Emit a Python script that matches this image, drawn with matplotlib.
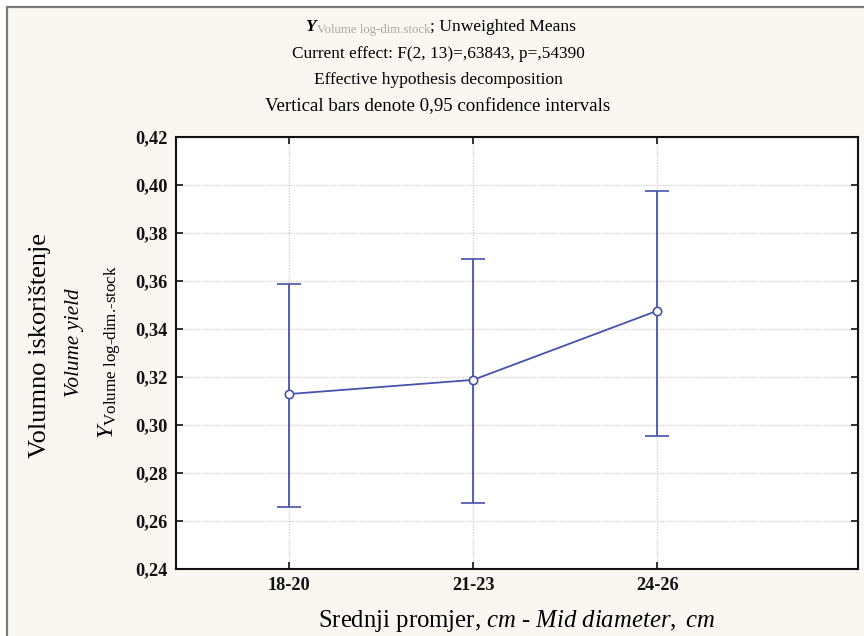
import matplotlib
matplotlib.use("Agg")
import matplotlib.pyplot as plt
from matplotlib.patches import Rectangle
import numpy as np

# ---- data ----
categories = ["18-20", "21-23", "24-26"]
means = [0.3129, 0.3188, 0.3476]
upper = [0.3588, 0.3692, 0.3976]
lower = [0.2657, 0.2674, 0.2955]
yticks = [0.24, 0.26, 0.28, 0.30, 0.32, 0.34, 0.36, 0.38, 0.40, 0.42]
title_lines = ["Current effect: F(2, 13)=,63843, p=,54390",
               "Effective hypothesis decomposition",
               "Vertical bars denote 0,95 confidence intervals"]

plt.rcParams['font.family'] = ['Liberation Serif', 'DejaVu Serif']
plt.rcParams['mathtext.fontset'] = 'custom'
plt.rcParams['mathtext.rm'] = 'Liberation Serif'
plt.rcParams['mathtext.it'] = 'Liberation Serif:italic'
plt.rcParams['mathtext.bf'] = 'Liberation Serif:bold'

W, H = 864, 636
fig = plt.figure(figsize=(W / 100, H / 100), dpi=100, facecolor='white')

# frame / background
fig.add_artist(Rectangle((7 / W, -0.05), 1.1, 1 - 7 / H + 0.05, transform=fig.transFigure,
                         facecolor='#faf7f2', edgecolor='#7a7a7a', linewidth=1.6, zorder=-10))

ax = fig.add_axes([176 / W, 1 - 569 / H, (858 - 176) / W, (569 - 137) / H])
ax.set_facecolor('white')

x = np.arange(len(categories))
m = np.array(means)
yerr = np.vstack([m - np.array(lower), np.array(upper) - m])
col = '#4653ad'
ax.errorbar(x, m, yerr=yerr, color=col, lw=1.3, capsize=8.5, capthick=1.3,
            marker='o', ms=6, mfc='white', mec=col, mew=1.2, zorder=3)

ax.set_xlim(-0.614, 3.09)
ax.set_ylim(0.24, 0.42)
ax.set_xticks(x)
ax.set_xticklabels(categories)
ax.set_yticks(yticks)
ax.set_yticklabels([f"{v:.2f}".replace('.', ',') for v in yticks])
for lab in ax.get_xticklabels() + ax.get_yticklabels():
    lab.set_fontsize(13.2)
    lab.set_fontweight('bold')
ax.tick_params(direction='in', length=5, width=1.2, top=True, right=True, pad=6, colors='#111111')
ax.grid(True, linestyle=(0, (1, 1)), color='#d9cccc', linewidth=1.0)
for s in ax.spines.values():
    s.set_linewidth(1.5)
    s.set_color('#111111')

# x label
fig.text(517 / W, 1 - 621 / H,
         r"Srednji promjer, $\mathit{cm}$ - $\mathit{Mid\ diameter,\ cm}$",
         ha='center', va='center', fontsize=17.8)

# y labels (three rotated lines)
fig.text(40 / W, 1 - 345 / H, "Volumno iskorištenje", rotation=90, ha='center', va='center', fontsize=19)
fig.text(75 / W, 1 - 343 / H, "Volume yield", rotation=90, ha='center', va='center', fontsize=15.2, style='italic')
fig.text(110 / W, 1 - 352 / H, r"$Y_{\text{Volume log-dim.-stock}}$", rotation=90,
         ha='center', va='center', fontsize=17.5)

# title
t_y = fig.text(305 / W, 1 - 31 / H, "Y", fontsize=12.5, style='italic', fontweight='bold', va='baseline')
t_sub = ax.annotate("Volume log-dim.stock", xy=(1, 0), xycoords=t_y, xytext=(1, -1),
                    textcoords='offset points', fontsize=9.2, color='#a8a8a8', va='bottom', annotation_clip=False)
ax.annotate("; Unweighted Means", xy=(1, 0), xycoords=t_sub, xytext=(0, 1),
            textcoords='offset points', fontsize=12.6, va='bottom', annotation_clip=False)
sizes = [12.4, 12.5, 13.6]
for i, line in enumerate(title_lines):
    fig.text(438 / W, 1 - (54 + 26.5 * i) / H, line, ha='center', va='center', fontsize=sizes[i])

fig.savefig('out.png', dpi=100, facecolor=fig.get_facecolor())
